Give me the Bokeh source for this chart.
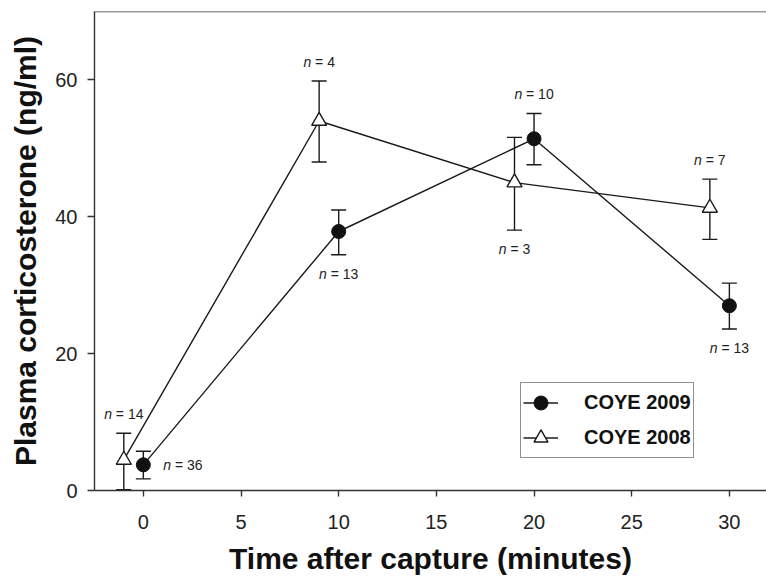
from bokeh.plotting import figure
from bokeh.models import Range1d, FixedTicker, Span, Legend, LegendItem, ColumnDataSource
from bokeh.core.properties import value
from bokeh.embed import file_html
from bokeh.resources import INLINE

# ---- data ----
time_2009 = [0, 10, 20, 30]
mean_2009 = [3.75, 37.85, 51.4, 27.0]
upper_2009 = [5.74, 41.0, 55.1, 30.3]
lower_2009 = [1.7, 34.45, 47.6, 23.6]
n_2009 = [36, 13, 10, 13]
side_2009 = ["right", "below", "above", "below"]

time_2008 = [-1, 9, 19, 29]
mean_2008 = [4.47, 54.0, 45.0, 41.3]
upper_2008 = [8.37, 59.85, 51.6, 45.5]
lower_2008 = [0.1, 48.0, 38.05, 36.7]
n_2008 = [14, 4, 3, 7]
side_2008 = ["above", "above", "below", "above"]

x_ticks = [0, 5, 10, 15, 20, 25, 30]
y_ticks = [0, 20, 40, 60]
series_names = ["COYE 2009", "COYE 2008"]

FONT = "Liberation Sans"
INK = "#1a1a1a"
LW = 1.4

p = figure(width=766, height=580, output_backend="svg", toolbar_location=None,
           x_range=Range1d(-2.5, 31.9), y_range=Range1d(0, 70),
           min_border_left=94, min_border_right=0, min_border_top=11, min_border_bottom=90)
p.outline_line_color = None
p.xgrid.visible = False
p.ygrid.visible = False
p.background_fill_color = "white"
p.border_fill_color = "white"

for ax in (p.xaxis, p.yaxis):
    ax.axis_line_color = "#333333"
    ax.axis_line_width = LW
    ax.major_tick_line_color = "#333333"
    ax.major_tick_line_width = LW
    ax.major_tick_in = 0
    ax.minor_tick_line_color = None
    ax.major_label_text_font = FONT
    ax.major_label_text_font_size = "20px"
    ax.major_label_text_color = "#222222"
    ax.axis_label_text_font = FONT
    ax.axis_label_text_font_style = "bold"
    ax.axis_label_text_font_size = "30px"
    ax.axis_label_text_color = "#111111"

p.xaxis.ticker = FixedTicker(ticks=x_ticks)
p.yaxis.ticker = FixedTicker(ticks=y_ticks)
p.xaxis.major_tick_out = 6
p.yaxis.major_tick_out = 7
p.xaxis.major_label_standoff = 18
p.yaxis.major_label_standoff = 10
p.xaxis.axis_label = "Time after capture (minutes)"
p.yaxis.axis_label = "Plasma corticosterone (ng/ml)"
p.xaxis.axis_label_standoff = 10
p.yaxis.axis_label_standoff = 10

p.add_layout(Span(location=70, dimension="width", line_color="#333333", line_width=1.6))

src09 = ColumnDataSource(dict(x=time_2009, y=mean_2009, up=upper_2009, lo=lower_2009))
src08 = ColumnDataSource(dict(x=time_2008, y=mean_2008, up=upper_2008, lo=lower_2008))

l09 = p.line("x", "y", source=src09, line_color=INK, line_width=LW)
l08 = p.line("x", "y", source=src08, line_color=INK, line_width=LW)

for src in (src09, src08):
    p.segment(x0="x", y0="lo", x1="x", y1="up", source=src, line_color=INK, line_width=LW)
    p.scatter("x", "up", source=src, marker="dash", size=15, line_color=INK, line_width=LW)
    p.scatter("x", "lo", source=src, marker="dash", size=15, line_color=INK, line_width=LW)

m09 = p.scatter("x", "y", source=src09, marker="circle", size=14,
                fill_color="#111111", line_color="#111111", line_width=1)
m08 = p.scatter("x", "y", source=src08, marker="triangle", size=15,
                fill_color="white", line_color=INK, line_width=LW)

# ---- n labels: italic "n" + upright "= N" ----
FS = 14
def build_labels(xs, ys, ups, los, ns, sides):
    out = dict(x=[], y=[], xo_n=[], xo_r=[], yo=[], rest=[], nn=[])
    for x, y, up, lo, n, side in zip(xs, ys, ups, los, ns, sides):
        rest = "= %d" % n
        total = (0.556 + 0.278 + 0.584 + 0.278 + 0.556 * len(str(n))) * FS
        if side == "right":
            start, yy, yo = 20, y, 0
        elif side == "above":
            start, yy, yo = -total / 2, up, -19
        else:
            start, yy, yo = -total / 2, lo, 19
        out["x"].append(x)
        out["y"].append(yy)
        out["xo_n"].append(start)
        out["xo_r"].append(start + (0.556 + 0.278) * FS)
        out["yo"].append(yo)
        out["rest"].append(rest)
        out["nn"].append("n")
    return out

for lab in (build_labels(time_2009, mean_2009, upper_2009, lower_2009, n_2009, side_2009),
            build_labels(time_2008, mean_2008, upper_2008, lower_2008, n_2008, side_2008)):
    s = ColumnDataSource(lab)
    p.text("x", "y", text="nn", source=s, x_offset="xo_n", y_offset="yo",
           text_font=value(FONT), text_font_style="italic", text_font_size="%dpx" % FS,
           text_align="left", text_baseline="middle", text_color="#222222")
    p.text("x", "y", text="rest", source=s, x_offset="xo_r", y_offset="yo",
           text_font=value(FONT), text_font_size="%dpx" % FS,
           text_align="left", text_baseline="middle", text_color="#222222")

legend = Legend(items=[LegendItem(label=series_names[0], renderers=[l09, m09]),
                       LegendItem(label=series_names[1], renderers=[l08, m08])],
                location=(426, 32))
legend.label_text_font = FONT
legend.label_text_font_style = "bold"
legend.label_text_font_size = "20px"
legend.label_text_color = "#111111"
legend.border_line_color = "#222222"
legend.border_line_width = LW
legend.background_fill_color = "white"
legend.background_fill_alpha = 1
legend.glyph_width = 35
legend.glyph_height = 35
legend.label_height = 20
legend.spacing = -10
legend.padding = 2
legend.margin = 0
legend.label_standoff = 26
p.add_layout(legend)

open("out.html", "w").write(file_html(p, INLINE))
